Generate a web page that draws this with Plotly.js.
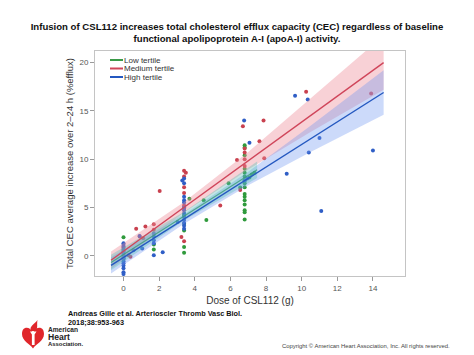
<!DOCTYPE html>
<html>
<head>
<meta charset="utf-8">
<script src="https://cdn.plot.ly/plotly-3.0.1.min.js"></script>
<style>html,body{margin:0;padding:0;background:#fff;}#chart{width:474px;height:355px;}</style>
</head>
<body>
<div id="chart"></div>
<script>
// ---- Data ----
const lowX = [0,0,0,1.7,1.7,3.4,3.4,3.4,3.4,3.4,3.4,3.7,4.5,4.65,5.9,6.55,7.07,7.2,7.35,
  6.8,6.8,6.8,6.8,6.8,6.8,6.8,6.8,6.8,6.8,6.8,6.8,6.8,6.8,6.8,6.8];
const lowY = [1.9,0.6,-0.3,1.16,0.64,4.2,3.3,2.6,0.9,0.3,5.0,5.9,5.75,3.7,7.5,7.07,8.1,8.4,8.6,
  11.45,11.2,10.4,9.0,8.6,8.2,7.8,7.5,7.1,6.4,6.1,5.75,5.3,4.7,4.5,3.75];

const medX = [0,0,0.28,0.39,0.71,0.91,1.1,1.23,1.7,1.7,2.03,
  3.4,3.5,3.4,3.4,3.4,3.4,3.4,3.25,3.4,
  5.43,6.37,6.55,6.7,7.86,7.63,7.9,10.25,13.9,
  6.8,6.8,6.8,6.8];
const medY = [0.9,0.4,0.05,-0.1,2.8,2.0,1.8,3.03,3.26,2.7,6.7,
  8.8,8.6,8.2,7.1,6.5,5.2,4.9,1.95,1.5,
  5.2,9.9,6.8,13.4,14.0,11.85,10.1,16.97,16.8,
  11.1,10.7,10.0,9.3];

const highX = [0,0,0,0,0,0,0,0,0,0,0,0,0,0,0,
  0.56,1.05,0.9,1.7,1.7,1.7,1.7,1.7,2.2,
  3.4,3.4,3.4,3.4,3.4,3.4,3.4,3.4,3.4,3.4,3.4,3.4,3.4,3.3,3.04,
  6.77,7.07,6.8,6.95,9.16,9.63,10.34,11.0,10.4,14.0,11.1];
const highY = [1.3,1.1,0.9,0.7,0.4,0.2,0.05,-0.15,-0.35,-0.57,-0.78,-1.0,-1.3,-1.7,-1.9,
  0.57,0.75,2.05,2.3,2.0,1.6,1.3,0.05,0.36,
  8.0,7.5,6.1,5.75,5.5,5.0,4.7,4.4,4.0,3.7,3.4,3.1,2.8,7.8,3.5,
  14.0,11.7,7.8,8.0,8.5,16.56,16.18,12.2,10.7,10.9,4.64];

// fitted lines and confidence bands
const medFitX = [-0.7, 14.6];
const medFitY = [-0.47, 20.0];
const medBandX = [-0.7, 3.4, 7, 10.5, 14.6];
const medBandUp = [0.43, 5.57, 10.74, 16.22, 22.8];
const medBandLo = [-1.37, 4.47, 8.94, 12.82, 17.2];

const highFitX = [-0.7, 14.6];
const highFitY = [-1.0, 16.9];
const highBandX = [-0.7, 3.4, 7, 10.5, 14.6];
const highBandUp = [-0.15, 4.3, 8.7, 13.45, 19.2];
const highBandLo = [-1.85, 3.3, 7.3, 10.75, 14.6];

const lowFitX = [-0.7, 7.5];
const lowFitY = [-0.7, 8.9];
const lowBandX = [-0.7, 3.4, 7.5];
const lowBandUp = [0.1, 4.55, 9.75];
const lowBandLo = [-1.5, 3.65, 8.05];

const seriesNames = ['Low tertile', 'Medium tertile', 'High tertile'];
const xTicks = [0,2,4,6,8,10,12,14];
const yTicks = [0,5,10,15,20];

// ---- Styles ----
const cGreen = '#2f9a3c', cRed = '#c9414f', cBlue = '#2f5ec6';
const lGreen = '#3a9a48', lRed = '#d0455a', lBlue = '#2458c0';

function band(x, up, lo, fill) {
  return {x: x.concat(x.slice().reverse()), y: up.concat(lo.slice().reverse()),
    type:'scatter', mode:'lines', fill:'toself', fillcolor: fill,
    line:{width:0, color:'rgba(0,0,0,0)'}, hoverinfo:'skip', showlegend:false};
}
function pts(x, y, c) {
  return {x, y, type:'scatter', mode:'markers', marker:{size:4, color:c}, showlegend:false};
}
function fit(x, y, c, w) {
  return {x, y, type:'scatter', mode:'lines', line:{width:w, color:c}, showlegend:false};
}

const traces = [
  pts(lowX, lowY, cGreen),
  pts(medX, medY, cRed),
  pts(highX, highY, cBlue),
  band(medBandX, medBandUp, medBandLo, 'rgba(238,140,152,0.40)'),
  band(highBandX, highBandUp, highBandLo, 'rgba(110,150,240,0.35)'),
  band(lowBandX, lowBandUp, lowBandLo, 'rgba(80,190,180,0.35)'),
  fit(lowFitX, lowFitY, 'rgba(58,154,120,0.8)', 1.2),
  fit(medFitX, medFitY, lRed, 1.4),
  fit(highFitX, highFitY, lBlue, 1.4)
];

// pixel -> paper helpers (plot area: x 95..405, y 51..276)
const PX = p => (p - 95) / 310;
const PY = p => (276 - p) / 225;
function pathPx(s) {
  const toks = s.trim().split(/\s+/);
  let out = [], isX = true;
  for (const t of toks) {
    if (/^[A-Za-z]$/.test(t)) { out.push(t); isX = true; continue; }
    const v = parseFloat(t);
    out.push((isX ? PX(v) : PY(v)).toFixed(5));
    isX = !isX;
  }
  return out.join(' ');
}

const legendCols = [lGreen, lRed, lBlue];
const legendY = [60, 68.5, 77];
const shapes = [];
const annotations = [];
legendY.forEach((yy, i) => {
  shapes.push({type:'line', xref:'paper', yref:'paper', x0:PX(110), x1:PX(123), y0:PY(yy), y1:PY(yy),
    line:{color:legendCols[i], width:2}});
  annotations.push({xref:'paper', yref:'paper', x:PX(123), y:PY(yy), xanchor:'left', yanchor:'middle', align:'left',
    text: seriesNames[i], showarrow:false, borderpad:0, font:{size:8, color:'#333'}});
});

// AHA logo
shapes.push({type:'path', xref:'paper', yref:'paper', line:{width:0}, fillcolor:'#e0262b',
  path: pathPx('M 33 333 C 30 326 22 326 22 334 C 22 341 30 344 33 348.5 C 36 344 44 341 44 334 C 44 326 36 326 33 333 Z')});
shapes.push({type:'path', xref:'paper', yref:'paper', line:{width:0}, fillcolor:'#e0262b',
  path: pathPx('M 31 331 C 29 326 34 325 37.5 320 C 36.5 325 38.5 328 35.5 331 Z')});
shapes.push({type:'path', xref:'paper', yref:'paper', line:{width:0}, fillcolor:'#ffffff',
  path: pathPx('M 30 331.5 L 36.5 331.5 L 34.6 334.5 L 34.6 345 L 31.9 345 L 31.9 334.5 Z')});

annotations.push(
  {xref:'paper', yref:'paper', x:PX(67), y:PY(308), xanchor:'left', yanchor:'top', align:'left', showarrow:false, borderpad:0,
   text:'<b>Andreas Gille et al. Arterioscler Thromb Vasc Biol.</b><br><b>2018;38:953-963</b>', font:{size:7.3, color:'#111'}},
  {xref:'paper', yref:'paper', x:PX(46.5), y:PY(329.5), xanchor:'left', yanchor:'middle', align:'left', showarrow:false, borderpad:0,
   text:'<b>American</b>', font:{size:6.6, color:'#222'}},
  {xref:'paper', yref:'paper', x:PX(46.5), y:PY(336.8), xanchor:'left', yanchor:'middle', align:'left', showarrow:false, borderpad:0,
   text:'<b>Heart</b>', font:{size:8.6, color:'#222'}},
  {xref:'paper', yref:'paper', x:PX(46.5), y:PY(344), xanchor:'left', yanchor:'middle', align:'left', showarrow:false, borderpad:0,
   text:'<b>Association.</b>', font:{size:5.9, color:'#222'}},
  {xref:'paper', yref:'paper', x:PX(451), y:PY(346), xanchor:'right', yanchor:'middle', showarrow:false, borderpad:0,
   text:'Copyright © American Heart Association, Inc. All rights reserved.', font:{size:5.9, color:'#444'}}
);

const axisCommon = {showline:true, mirror:true, linecolor:'#c4c4c4', linewidth:1, ticks:'outside',
  ticklen:4, tickcolor:'#9a9a9a', tickfont:{size:8, color:'#555'}, showgrid:false, zeroline:false};

const layout = {
  width:474, height:355,
  margin:{l:95, r:69, t:51, b:79, pad:0},
  paper_bgcolor:'#ffffff', plot_bgcolor:'#ffffff',
  font:{family:'"Liberation Sans", Arial, sans-serif', color:'#333'},
  showlegend:false,
  title:{text:'<b>Infusion of CSL112 increases total cholesterol efflux capacity (CEC) regardless of baseline</b><br><b>functional apolipoprotein A-I (apoA-I) activity.</b>',
    font:{size:9.6, color:'#111'}, x:0.5, xanchor:'center', xref:'container', y:1-29.5/355, yanchor:'middle', yref:'container'},
  xaxis: Object.assign({}, axisCommon, {range:[-1.6, 15.8], tickvals:xTicks, ticktext:xTicks.map(String),
    title:{text:'Dose of CSL112 (g)', font:{size:10, color:'#333'}, standoff:5}}),
  yaxis: Object.assign({}, axisCommon, {range:[-2.1, 21.2], tickvals:yTicks, ticktext:yTicks.map(String),
    title:{text:'Total CEC average increase over 2–24 h (%efflux)', font:{size:9.5, color:'#333'}, standoff:4}}),
  shapes, annotations
};

Plotly.newPlot('chart', traces, layout, {displayModeBar:false, staticPlot:true});
</script>
</body>
</html>
